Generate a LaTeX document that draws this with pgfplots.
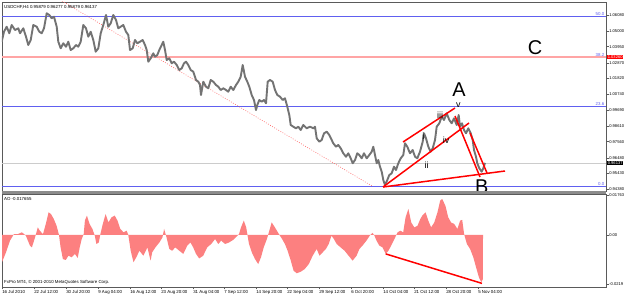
\documentclass[border=0pt]{standalone}
\usepackage{pgfplots}
\pgfplotsset{compat=1.18}
\usepackage{fontspec}
\setmainfont{Liberation Sans}
\definecolor{pricegray}{RGB}{115,115,115}
\definecolor{fibblue}{RGB}{96,96,240}
\definecolor{fibred}{RGB}{255,165,165}
\definecolor{aofill}{RGB}{252,128,128}
\definecolor{framec}{RGB}{90,90,90}
\newcommand{\tf}{\fontsize{4.4}{5}\selectfont}
\newcommand{\smf}{\fontsize{4.1}{5}\selectfont}
\newcommand{\bigf}{\fontsize{20}{20}\selectfont}
\newcommand{\midf}{\fontsize{9}{9}\selectfont}
\begin{document}
\begin{tikzpicture}
\useasboundingbox (0bp,0bp) rectangle (625bp,296bp);
\fill[white] (0bp,0bp) rectangle (625bp,296bp);
\begin{axis}[at={(2bp,294bp)}, anchor=north west, scale only axis,
  width=604bp, height=189bp, xmin=2, xmax=606, ymin=0.94245, ymax=1.06956,
  axis line style={framec, line width=0.6bp}, xtick=\empty,
  ytick={0.9438,0.9543,0.9648,0.9756,0.9861,0.9969,1.0074,1.0182,1.0287,1.0395,1.0500,1.0608},
  yticklabels={0.94380,0.95430,0.96480,0.97560,0.98610,0.99690,1.00740,1.01820,1.02870,1.03950,1.05000,1.06080},
  ytick pos=right, yticklabel pos=right, tick align=outside, major tick length=2.5bp,
  tick style={framec, line width=0.5bp}, yticklabel style={font=\smf, inner sep=0.6bp},
  scaled y ticks=false]
\addplot[fibblue, line width=0.6bp] coordinates {(2,1.05994) (606,1.05994)};
\addplot[fibred, line width=1.6bp] coordinates {(2,1.03257) (606,1.03257)};
\addplot[fibblue, line width=0.6bp] coordinates {(2,0.99962) (606,0.99962)};
\addplot[fibblue, line width=0.6bp] coordinates {(2,0.94582) (606,0.94582)};
\addplot[black!20, line width=0.6bp] coordinates {(2,0.96137) (606,0.96137)};
\addplot[red!60, line width=0.6bp, dash pattern=on 0.8bp off 1.6bp] coordinates {(62,1.07023) (372,0.94582)};
\addplot[pricegray, line width=1.9bp, line join=round] coordinates {
(1.7,1.04286) (4,1.04958) (6.7,1.05294) (9.3,1.04851) (11.7,1.05409) (15,1.05072) (18.3,1.05187) (20,1.04851)
(23.3,1.05187) (26,1.04622) (28.3,1.04064) (30.7,1.04400) (33.3,1.05409) (36.7,1.05294) (39.3,1.04958) (41.7,1.04851)
(44,1.05187) (46.7,1.06196) (49.3,1.06081) (51.7,1.05859) (54,1.05967) (56.7,1.05294) (58.3,1.04286) (60.7,1.03842)
(63.3,1.04178) (66,1.03949) (68.3,1.04286) (70.7,1.03727) (73.3,1.03842) (76,1.04064) (78.3,1.03949) (80.7,1.04286)
(83.3,1.05409) (86,1.05187) (88.3,1.04622) (90.7,1.04958) (93.3,1.04400) (95.7,1.03613) (98.3,1.03842) (100.7,1.04851)
(103.3,1.05409) (106,1.06081) (108.3,1.05294) (110.7,1.05523) (113.3,1.06081) (116,1.05745) (118.3,1.05187) (120.7,1.05294)
(123.3,1.05409) (126,1.04958) (128.3,1.04736) (130,1.03727) (132.7,1.03842) (135,1.04400) (137.3,1.04178) (140,1.04286)
(142.7,1.04400) (145,1.04064) (146.7,1.03727) (148.3,1.02941) (150.7,1.03169) (153.3,1.03506) (155,1.03277) (157.3,1.03391)
(159.3,1.03727) (161.7,1.04064) (163.3,1.04286) (165,1.03727) (166.7,1.03055) (169.3,1.03169) (171.7,1.02833) (174,1.02941)
(176.7,1.02719) (179.3,1.02382) (181.7,1.02497) (184,1.02833) (186,1.02941) (188.3,1.02719) (190.7,1.02382) (193.3,1.02268)
(196,1.01710) (198.3,1.01596) (200,1.01374) (201,1.00701) (203.3,1.01596) (206,1.01259) (208.3,1.01152) (210.7,1.01710)
(213.3,1.01596) (216,1.01374) (218.3,1.01259) (220.7,1.01037) (223.3,1.01152) (226,1.01037) (228.3,1.00923) (230.7,1.01259)
(233.3,1.01037) (236,1.01374) (238.3,1.01596) (240.7,1.01932) (242.7,1.02719) (245,1.01932) (247.3,1.01596) (249.3,1.01259)
(251.7,1.00701) (254,1.00365) (256,0.99692) (257.3,1.00029) (259.3,1.00365) (261.7,1.00251) (264,1.00365) (266,1.00143)
(267.7,1.01596) (270,1.01710) (272.7,1.01596) (275,1.01037) (277.3,1.00701) (280,1.00587) (282.7,1.00365) (285,1.00479)
(287.3,0.99914) (289.3,0.99356) (290.7,0.98684) (293.3,0.98569) (296,0.98462) (298.3,0.98569) (300.7,0.98347)
(303.3,0.98684) (306.7,0.98462) (310,0.98569) (313.3,0.98462) (315,0.98569) (316.7,0.97789) (319.3,0.97561) (321.7,0.97675)
(324,0.98126) (326.7,0.98233) (329.3,0.98011) (331.7,0.97675) (333.3,0.97453) (336,0.97224) (338.3,0.97339) (340.7,0.97117)
(343.3,0.96781) (346,0.96552) (348.3,0.96781) (350.7,0.96444) (352.7,0.96108) (355,0.96330) (357.3,0.96781) (359.3,0.96666)
(361.7,0.96444) (364,0.96781) (366.7,0.96444) (369.3,0.96666) (371.7,0.96888) (373.3,0.97224) (375,0.96666) (376.7,0.96108)
(378.3,0.96330) (380,0.95880) (381.7,0.95543) (383.3,0.94985) (385,0.94649) (387.3,0.94985) (389.3,0.95321) (391.7,0.95436)
(394,0.95880) (396,0.95657) (398.3,0.96108) (400.7,0.96444) (403.3,0.96666) (405,0.97453) (407.3,0.97224) (410,0.96781)
(412.7,0.97002) (415,0.96552) (417.3,0.96444) (420,0.96888) (422.7,0.97561) (424,0.98126) (426,0.97789) (428.3,0.97224)
(430.7,0.96888) (432.7,0.97117) (435,0.97675) (436.7,0.98569) (439.3,0.98798) (441.7,0.99242) (444,0.99020) (446.7,0.99471)
(449.3,0.99020) (451.7,0.98798) (454,0.99134) (456.7,0.98684) (458.7,0.99356) (460,0.98569) (462,0.98798) (464,0.98347)
(466,0.98126) (468.3,0.98462) (470.7,0.98126) (472.7,0.97675) (474,0.97002) (476,0.96552) (477.3,0.96108) (479.3,0.95772)
(481.7,0.95543) (483.3,0.95772) (485,0.96137)};
\addplot[red, line width=1.5bp] coordinates {(403,0.97540) (455,0.99827)};
\addplot[red, line width=1.5bp] coordinates {(383,0.94514) (469,0.98818)};
\addplot[red, line width=1.5bp] coordinates {(383,0.94514) (505,0.95590)};
\addplot[red, line width=1.5bp] coordinates {(455,0.99289) (480,0.95187)};
\addplot[red, line width=1.5bp] coordinates {(470,0.98146) (487,0.95456)};
\node[font=\tf, text=fibblue, anchor=south east, inner sep=0.6bp] at (axis cs:605,1.05994) {50.0};
\node[font=\tf, text=fibblue, anchor=south east, inner sep=0.6bp] at (axis cs:605,1.03257) {38.2};
\node[font=\tf, text=fibblue, anchor=south east, inner sep=0.6bp] at (axis cs:605,0.99962) {23.6};
\node[font=\tf, text=fibblue, anchor=south east, inner sep=0.6bp] at (axis cs:605,0.94582) {0.0};
\node[font=\midf, inner sep=0] at (axis cs:440,0.99356) {iii};
\node[font=\midf, inner sep=0] at (axis cs:423.3,0.97897) {i};
\node[font=\midf, inner sep=0] at (axis cs:446,0.97675) {iv};
\node[font=\midf, inner sep=0] at (axis cs:426.7,0.95994) {ii};
\node[font=\midf, inner sep=0] at (axis cs:458.3,1.00029) {v};
\node[font=\bigf, inner sep=0] at (axis cs:459,1.01038) {A};
\node[font=\bigf, inner sep=0] at (axis cs:535,1.03862) {C};
\node[font=\bigf, inner sep=0] at (axis cs:481.7,0.94514) {B};
\end{axis}
\fill[black!45] (2bp,102.2bp) rectangle (606bp,104.8bp);
\begin{axis}[at={(2bp,102bp)}, anchor=north west, scale only axis,
  width=604bp, height=93bp, xmin=2, xmax=606, ymin=-0.02311, ymax=0.01822,
  axis line style={framec, line width=0.6bp},
  ytick={-0.0219,0,0.0176}, yticklabels={-0.0219,0.00,0.01763},
  ytick pos=right, yticklabel pos=right,
  xtick={2,34,66,98,130,161,193,224,256,287,319,351,383,414,446,478},
  xticklabels={16 Jul 2010,22 Jul 12:00,30 Jul 20:00,9 Aug 04:00,16 Aug 12:00,23 Aug 20:00,31 Aug 04:00,7 Sep 12:00,14 Sep 20:00,22 Sep 04:00,29 Sep 12:00,6 Oct 20:00,14 Oct 04:00,21 Oct 12:00,28 Oct 20:00,5 Nov 04:00},
  xtick pos=bottom, tick align=outside, major tick length=2.5bp,
  tick style={framec, line width=0.5bp},
  xticklabel style={font=\tf, anchor=north west, inner sep=0.6bp, xshift=-0.5bp},
  yticklabel style={font=\smf, inner sep=0.6bp},
  scaled y ticks=false]
\addplot[fill=aofill, draw=none] coordinates {
(2,0) (2,-0.0121) (6,-0.0077) (10,-0.0025) (13.9,0.0004) (17.9,0.0004) (21.9,0.0012) (25.9,-0.0003) (29.9,-0.0047)
(31.9,-0.0055) (35.1,-0.0010) (37.8,0.0034) (39.8,0.0019) (43,0.0004) (45.8,0.0049) (48.6,0.0101) (51,0.0093)
(53.8,0.0071) (56.6,0.0041) (59,0) (60.6,-0.0055) (62.9,-0.0107) (65.7,-0.0111) (68.5,-0.0092) (71.7,-0.0099)
(74.9,-0.0084) (77.7,-0.0102) (79.7,-0.0055) (81.7,-0.0018) (83.7,0.0004) (84.9,0.0064) (86.9,0.0086) (89.6,0.0049)
(92.4,0.0027) (94.8,-0.0003) (96.4,-0.0040) (98.8,-0.0033) (100.4,0.0004) (102.8,0.0049) (105.6,0.0093) (108.4,0.0056)
(111.6,0.0079) (114.7,0.0086) (117.5,0.0064) (120.3,0.0027) (123.5,0.0012) (126.7,0.0019) (128.3,0) (130.7,-0.0070)
(133.5,-0.0121) (136.3,-0.0099) (139.4,-0.0070) (143.4,-0.0092) (147.4,-0.0055) (150.6,-0.0114) (152.2,-0.0077) (155.4,-0.0055)
(159.4,-0.0033) (162.5,-0.0010) (164.1,0.0027) (166.5,-0.0010) (169.3,-0.0062) (172.1,-0.0070) (175.3,-0.0055) (179.3,-0.0070)
(183.3,-0.0084) (187.3,-0.0047) (190.4,-0.0033) (193.2,-0.0055) (196,-0.0084) (199.2,-0.0104) (203.2,-0.0092) (207.2,-0.0055)
(211.2,-0.0040) (215.1,-0.0018) (218.3,-0.0040) (221.1,-0.0025) (225.1,-0.0040) (229.1,-0.0033) (233.1,-0.0022) (235.9,-0.0010)
(239,0.0004) (241,0.0034) (243.8,0.0064) (246.2,0.0034) (249,-0.0040) (251.8,-0.0077) (255,-0.0107) (258.2,-0.0129)
(261,-0.0099) (263.7,-0.0055) (266.9,-0.0018) (269.3,0.0019) (271.7,0.0056) (274.9,0.0034) (278.9,0.0004) (282.1,-0.0018)
(284.9,-0.0040) (287.6,-0.0070) (290.8,-0.0114) (293.6,-0.0159) (296.8,-0.0170) (300.8,-0.0163) (304.8,-0.0151) (308.8,-0.0129)
(312.7,-0.0092) (316.7,-0.0062) (319.5,-0.0092) (322.7,-0.0077) (325.9,-0.0062) (328.7,-0.0040) (331.5,-0.0003) (333.9,-0.0018)
(336.7,-0.0040) (340.6,-0.0055) (344.6,-0.0070) (348.6,-0.0092) (352.6,-0.0114) (356.6,-0.0092) (359.4,-0.0062) (362.5,-0.0047)
(366.5,-0.0025) (369.7,-0.0003) (372.5,0.0009) (374.5,-0.0003) (376.5,-0.0025) (379.3,-0.0047) (382.5,-0.0055) (385.7,-0.0084)
(388.4,-0.0070) (391.2,-0.0047) (394.4,-0.0018) (397.6,0.0012) (400.4,0.0019) (403.2,0.0012) (405.6,0.0079) (408.4,0.0116)
(411.2,0.0056) (414.3,0.0034) (417.5,0.0041) (420.3,0.0071) (422.3,0.0086) (425.5,0.0101) (428.3,0.0064) (431.1,0.0034)
(434.3,0.0056) (437.5,0.0101) (440.2,0.0153) (442.2,0.0160) (445.4,0.0130) (448.2,0.0079) (451,0.0056) (454.2,0.0049)
(457.4,0.0027) (460.2,0.0064) (462.2,0.0067) (464.1,0.0004) (466.9,-0.0040) (470.1,-0.0062) (473.3,-0.0099) (476.1,-0.0144)
(478.9,-0.0188) (481.3,-0.0210) (482.9,-0.0196) (483,0)} \closedcycle;
\addplot[red, line width=1.5bp] coordinates {(385.7,-0.0084) (482,-0.0215)};
\end{axis}
\node[font=\tf, anchor=west, inner sep=0] at (4bp,289bp) {USDCHF,H4 0.95879 0.96277 0.95879 0.96137};
\node[font=\tf, anchor=west, inner sep=0] at (4bp,97bp) {AO -0.017655};
\node[font=\tf, anchor=west, inner sep=0] at (4bp,14bp) {FxPro MT4, © 2001-2010 MetaQuotes Software Corp.};
\node[font=\smf, fill=red, text=white, anchor=west, inner sep=0.6bp] at (607bp,239bp) {1.03260};
\node[font=\smf, fill=black, text=white, anchor=west, inner sep=0.6bp] at (607bp,133bp) {0.96137};
\end{tikzpicture}
\end{document}
